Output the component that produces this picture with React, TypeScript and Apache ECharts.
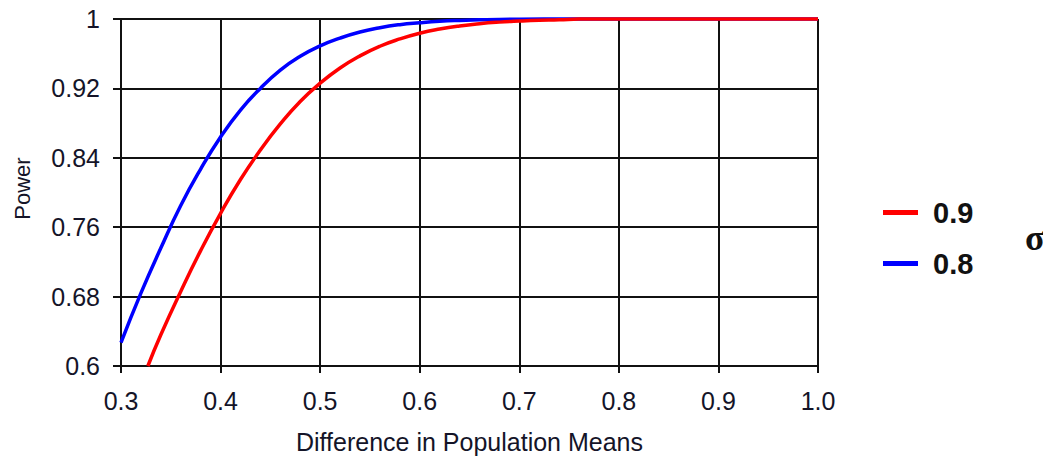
import React, { useEffect, useRef } from "react";
import * as echarts from "echarts";

const xTicksMin = 0.3;
const xTicksMax = 1.0;
const yTicksMin = 0.6;
const yTicksMax = 1.0;

const sigma08X = [0.30, 0.32, 0.34, 0.36, 0.38, 0.40, 0.42, 0.44, 0.46, 0.48, 0.50, 0.52, 0.54, 0.56, 0.58, 0.60, 0.62, 0.64, 0.66, 0.68, 0.70, 0.75, 0.80, 0.85, 0.90, 0.95, 1.00];
const sigma08Y = [0.627, 0.684, 0.736, 0.785, 0.827, 0.864, 0.895, 0.920, 0.941, 0.957, 0.969, 0.978, 0.985, 0.990, 0.9935, 0.9957, 0.9974, 0.9984, 0.999, 0.9995, 0.9997, 1, 1, 1, 1, 1, 1];

const sigma09X = [0.327, 0.34, 0.36, 0.38, 0.40, 0.42, 0.44, 0.46, 0.48, 0.50, 0.52, 0.54, 0.56, 0.58, 0.60, 0.62, 0.64, 0.66, 0.68, 0.70, 0.72, 0.74, 0.76, 0.80, 0.85, 0.90, 0.95, 1.00];
const sigma09Y = [0.600, 0.636, 0.686, 0.733, 0.776, 0.815, 0.849, 0.879, 0.905, 0.926, 0.9435, 0.9575, 0.9686, 0.977, 0.9836, 0.9884, 0.992, 0.9946, 0.9964, 0.9976, 0.9985, 0.999, 1, 1, 1, 1, 1, 1];

const seriesNames = ["0.9", "0.8"];
const xAxisTitle = "Difference in Population Means";
const yAxisTitle = "Power";
const legendTitle = "σ";

const FONT = "'Liberation Sans', Arial, sans-serif";
const INK = "#141428";

export default function App() {
  const ref = useRef<HTMLDivElement>(null);
  useEffect(() => {
    if (!ref.current) return;
    const chart = echarts.init(ref.current, undefined, { renderer: "svg" });
    const zip = (xs: number[], ys: number[]) => xs.map((x, i) => [x, ys[i]]);
    chart.setOption({
      animation: false,
      backgroundColor: "#ffffff",
      grid: { left: 121, top: 19, width: 697, height: 347, containLabel: false },
      xAxis: {
        type: "value",
        min: xTicksMin,
        max: xTicksMax,
        interval: 0.1,
        name: xAxisTitle,
        nameLocation: "middle",
        nameGap: 63,
        nameTextStyle: { fontSize: 25, color: INK, fontFamily: FONT },
        axisLine: { show: true, lineStyle: { color: "#111", width: 2 } },
        axisTick: { show: true, length: 7, lineStyle: { color: "#111", width: 2 } },
        axisLabel: {
          fontSize: 25,
          color: INK,
          fontFamily: FONT,
          margin: 22,
          formatter: (v: number) => v.toFixed(1),
        },
        splitLine: { show: true, lineStyle: { color: "#111", width: 2 } },
      },
      yAxis: {
        type: "value",
        min: yTicksMin,
        max: yTicksMax,
        interval: 0.08,
        name: yAxisTitle,
        nameLocation: "middle",
        nameGap: 88,
        nameRotate: 90,
        nameTextStyle: { fontSize: 22, color: INK, fontFamily: FONT, padding: [0, 0, 0, 8] },
        axisLine: { show: true, lineStyle: { color: "#111", width: 2 } },
        axisTick: { show: true, length: 8, lineStyle: { color: "#111", width: 2 } },
        axisLabel: {
          fontSize: 25,
          color: INK,
          fontFamily: FONT,
          margin: 21,
          formatter: (v: number) => String(+v.toFixed(2)),
        },
        splitLine: { show: true, lineStyle: { color: "#111", width: 2 } },
      },
      legend: {
        orient: "vertical",
        left: 878,
        top: 193,
        itemWidth: 35,
        itemHeight: 5,
        itemGap: 22,
        icon: "rect",
        data: seriesNames,
        textStyle: { fontSize: 29, fontWeight: "bold", color: "#111", fontFamily: FONT, padding: [0, 0, 0, 10] },
      },
      graphic: [
        {
          type: "text",
          left: 1025,
          top: 220,
          style: { text: legendTitle, fontSize: 36, fontWeight: "bold", fill: "#111", fontFamily: "'Liberation Serif', 'Times New Roman', serif" },
        },
      ],
      series: [
        {
          name: seriesNames[1],
          type: "line",
          data: zip(sigma08X, sigma08Y),
          symbol: "none",
          smooth: true,
          clip: false,
          lineStyle: { color: "#0000ff", width: 3.5 },
          itemStyle: { color: "#0000ff" },
        },
        {
          name: seriesNames[0],
          type: "line",
          data: zip(sigma09X, sigma09Y),
          symbol: "none",
          smooth: true,
          clip: false,
          lineStyle: { color: "#ff0000", width: 3.5 },
          itemStyle: { color: "#ff0000" },
        },
      ],
    });
    return () => chart.dispose();
  }, []);
  return <div ref={ref} style={{ width: 1051, height: 464, margin: -8 }} />;
}
